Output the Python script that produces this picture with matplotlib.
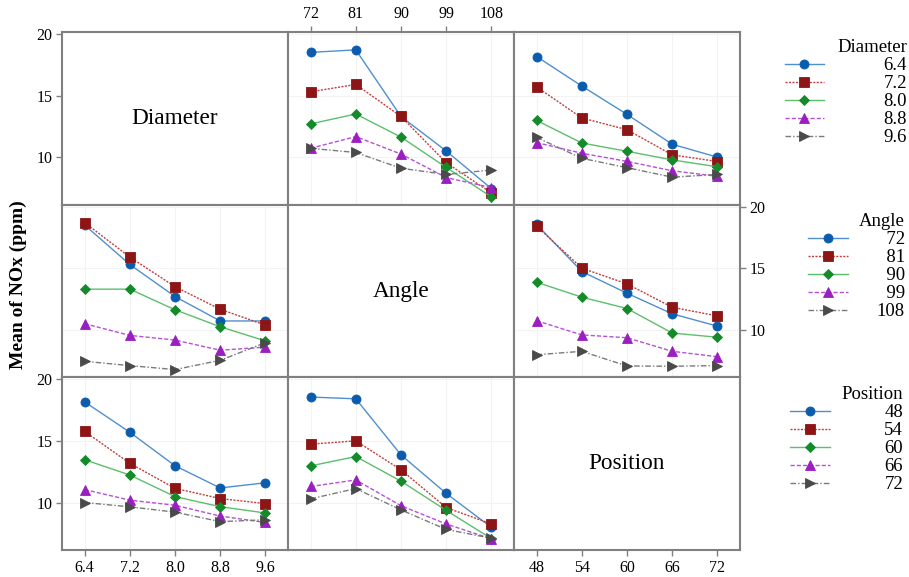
import matplotlib
matplotlib.use('Agg')
import matplotlib.pyplot as plt
import numpy as np

plt.rcParams['font.family'] = ['Liberation Serif', 'DejaVu Serif']

factors = ['Diameter', 'Angle', 'Position']
diameter_levels = ['6.4', '7.2', '8.0', '8.8', '9.6']
angle_levels = ['72', '81', '90', '99', '108']
position_levels = ['48', '54', '60', '66', '72']
levels = [diameter_levels, angle_levels, position_levels]

# Mean NOx (ppm); rows = levels of first factor, cols = levels of second factor
diam_angle = [
    [18.50, 18.70, 13.30, 10.50, 7.45],
    [15.30, 15.90, 13.30, 9.55, 7.10],
    [12.70, 13.50, 11.63, 9.17, 6.78],
    [10.72, 11.67, 10.25, 8.35, 7.53],
    [10.72, 10.38, 9.10, 8.60, 8.96],
]
diam_pos = [
    [18.16, 15.77, 13.47, 11.05, 10.00],
    [15.70, 13.18, 12.23, 10.19, 9.65],
    [12.98, 11.15, 10.48, 9.78, 9.22],
    [11.18, 10.32, 9.66, 8.90, 8.45],
    [11.60, 9.91, 9.15, 8.38, 8.60],
]
angle_pos = [
    [18.55, 14.73, 12.97, 11.30, 10.30],
    [18.41, 15.00, 13.73, 11.83, 11.13],
    [13.86, 12.65, 11.73, 9.74, 9.40],
    [10.74, 9.59, 9.36, 8.26, 7.82],
    [7.98, 8.26, 7.07, 7.05, 7.10],
]
tables = {(0, 1): diam_angle, (0, 2): diam_pos, (1, 2): angle_pos}

marker_colors = ['#0b5cad', '#8e1515', '#148a2a', '#9a1ec0', '#4a4a4a']
line_colors = ['#4f8fd0', '#c04040', '#5cbf6c', '#b550d8', '#7a7a7a']
markers = ['o', 's', 'D', '^', '>']
msizes = [6.5, 6.5, 5.5, 6.5, 6.5]
lstyles = ['-', (0, (1.5, 1)), '-', (0, (3, 1.5)), (0, (4, 1.5, 1, 1.5))]

fig, axes = plt.subplots(3, 3, figsize=(9.09, 5.77), dpi=100)
fig.subplots_adjust(left=62/909, right=740/909, bottom=1-550/577, top=1-32/577,
                    wspace=0, hspace=0)

x = np.arange(5)
handles_by_row = {}
for r in range(3):
    for c in range(3):
        ax = axes[r, c]
        ax.set_xlim(-0.5, 4.5)
        ax.set_ylim(6.15, 20.15)
        for s in ax.spines.values():
            s.set_color('#808080')
            s.set_linewidth(1.5)
        ax.tick_params(left=False, right=False, top=False, bottom=False,
                       labelleft=False, labelright=False, labeltop=False, labelbottom=False,
                       direction='out', length=4, width=1, color='#808080',
                       labelsize=11.5, pad=3)
        ax.set_xticks(x)
        ax.set_xticklabels(levels[c])
        ax.set_yticks([10, 15, 20])
        if r == c:
            ax.text(0.5, 0.5, factors[r], transform=ax.transAxes, ha='center', va='center',
                    fontsize=16.75)
            continue
        ax.grid(True, color='#f3f3f3', lw=0.8)
        ax.set_axisbelow(True)
        if r < c:
            data = np.array(tables[(r, c)])
        else:
            data = np.array(tables[(c, r)]).T
        hs = []
        for k in range(5):
            h, = ax.plot(x, data[k], color=line_colors[k], ls=lstyles[k], lw=1.0,
                         marker=markers[k], ms=msizes[k], mfc=marker_colors[k],
                         mec=marker_colors[k], mew=0.6)
            hs.append(h)
        handles_by_row[r] = hs

# axis labels where the reference shows them
axes[0, 0].tick_params(left=True, labelleft=True)
axes[2, 0].tick_params(left=True, labelleft=True)
axes[1, 2].tick_params(right=True, labelright=True)
axes[0, 1].tick_params(top=True, labeltop=True)
axes[2, 0].tick_params(bottom=True, labelbottom=True)
axes[2, 2].tick_params(bottom=True, labelbottom=True)

fig.text(18/909, 1-285/577, 'Mean of NOx (ppm)', rotation=90, ha='center', va='center',
         fontsize=14, fontweight='bold')

fs = '\u2007'
legend_specs = [
    (0, diameter_levels, (907/909, 1-39/577), 3.15),
    (1, [fs + l if len(l) == 2 else l for l in angle_levels], (905/909, 1-213/577), 1.55),
    (2, position_levels, (903/909, 1-386/577), 2.9),
]
for r, labs, anchor, pad in legend_specs:
    leg = fig.legend(handles_by_row[r], labs, title=factors[r], loc='upper right',
                     bbox_to_anchor=anchor, frameon=False, fontsize=13.5,
                     title_fontsize=13.5, alignment='right', handlelength=2.13,
                     handletextpad=pad, labelspacing=0.05, borderpad=0,
                     borderaxespad=0)

fig.savefig('out.png', dpi=100)
